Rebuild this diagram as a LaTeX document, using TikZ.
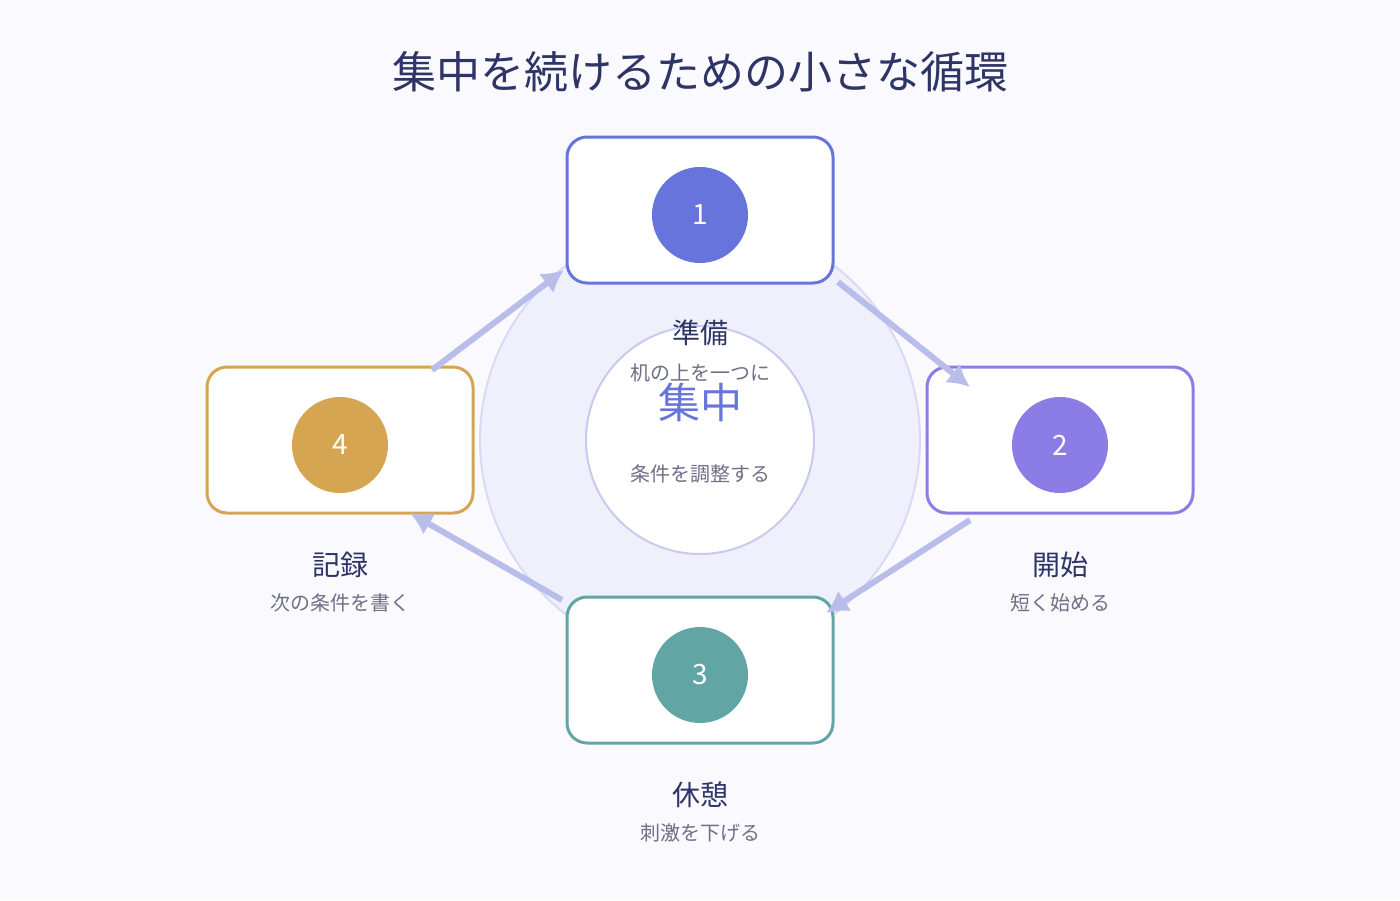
\documentclass[tikz,border=0pt]{standalone}
\usepackage{fontspec}
\setmainfont{Noto Sans CJK JP}
\usetikzlibrary{arrows.meta}
\definecolor{bg}{HTML}{F9F9FE}
\definecolor{ring}{HTML}{EFF0FB}
\definecolor{ringb}{HTML}{D8DBF3}
\definecolor{inb}{HTML}{C8CBEE}
\definecolor{dark}{HTML}{2E3566}
\definecolor{gr}{HTML}{6E7088}
\definecolor{arr}{HTML}{B8BDEA}
\definecolor{cA}{HTML}{6674DC}
\definecolor{cB}{HTML}{8C7CE6}
\definecolor{cC}{HTML}{62A5A5}
\definecolor{cD}{HTML}{D6A552}
\tikzset{
 box/.style={draw=#1,line width=3pt,fill=white,rounded corners=20pt,minimum width=266pt,minimum height=146pt},
 num/.style={circle,fill=#1,minimum size=96pt,text=white,font=\fontsize{28}{30}\selectfont},
 lab/.style={text=dark,font=\fontsize{28}{32}\selectfont},
 sub/.style={text=gr,font=\fontsize{20}{24}\selectfont},
 ar/.style={draw=arr,line width=6pt,-{Latex[length=22pt,width=24pt]}}
}
\begin{document}
\begin{tikzpicture}[x=1pt,y=-1pt]
\fill[bg] (0,0) rectangle (1400,900);
\node[text=dark,font=\fontsize{44}{50}\selectfont] (title) at (700,72) {集中を続けるための小さな循環};
\node[circle,fill=ring,draw=ringb,line width=2pt,minimum size=440pt] (ring) at (700,440) {};
\node[circle,fill=white,draw=inb,line width=2pt,minimum size=228pt] (in) at (700,440) {};
\node[text=cA,font=\fontsize{42}{46}\selectfont] (c1) at (700,402) {集中};
\node[sub] (c2) at (700,474) {条件を調整する};
\node[box=cA] (b1) at (700,210) {};
\node[box=cB] (b2) at (1060,440) {};
\node[box=cC] (b3) at (700,670) {};
\node[box=cD] (b4) at (340,440) {};
\node[num=cA] (n1) at (700,215) {1};
\node[num=cB] (n2) at (1060,445) {2};
\node[num=cC] (n3) at (700,675) {3};
\node[num=cD] (n4) at (340,445) {4};
\node[lab] (l1) at (700,333) {準備};
\node[sub] (s1) at (700,373) {机の上を一つに};
\node[lab] (l2) at (1060,565) {開始};
\node[sub] (s2) at (1060,603) {短く始める};
\node[lab] (l3) at (700,795) {休憩};
\node[sub] (s3) at (700,833) {刺激を下げる};
\node[lab] (l4) at (340,565) {記録};
\node[sub] (s4) at (340,603) {次の条件を書く};
\coordinate (a1s) at (838,282); \coordinate (a1e) at (970,387);
\coordinate (a2s) at (970,520); \coordinate (a2e) at (826,613);
\coordinate (a3s) at (562,600); \coordinate (a3e) at (410,513);
\coordinate (a4s) at (432,370); \coordinate (a4e) at (564,270);
\draw[ar] (a1s) -- (a1e);
\draw[ar] (a2s) -- (a2e);
\draw[ar] (a3s) -- (a3e);
\draw[ar] (a4s) -- (a4e);
\end{tikzpicture}
\end{document}
